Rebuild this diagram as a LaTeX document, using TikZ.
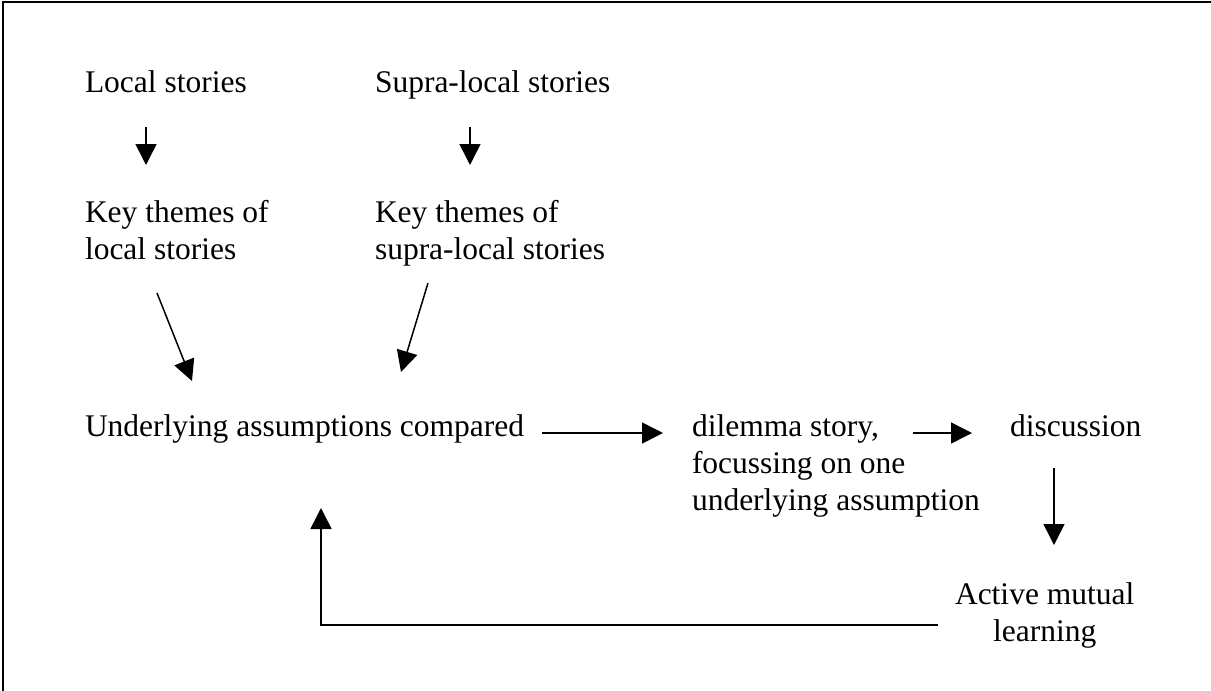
\documentclass[tikz,border=0pt]{standalone}
\usepackage{fontspec}
\setmainfont{Liberation Serif}
\usetikzlibrary{arrows.meta}
\begin{document}
\begin{tikzpicture}[x=1pt,y=-1pt,
  lbl/.style={inner sep=0pt,outer sep=0pt,anchor=base west,
    font=\fontsize{31.5}{37}\selectfont},
  arr/.style={line width=1.5pt,-{Triangle[length=21pt,width=21pt]}},
  frameline/.style={line width=2pt}]
  \useasboundingbox (0,0) rectangle (1211,691);
  % frame edges
  \draw[frameline] (3,691) -- (3,1.5) -- (1211,1.5);

  % labels (multi-line labels are placed by the baseline of their last line)
  \node[lbl] (local) at (85,92) {Local stories};
  \node[lbl] (supra) at (375,92) {Supra-local stories};
  \node[lbl,align=left] (key1) at (85,259) {Key themes of\\local stories};
  \node[lbl,align=left] (key2) at (375,259) {Key themes of\\supra-local stories};
  \node[lbl] (ua) at (85,436) {Underlying assumptions compared};
  \node[lbl,align=left] (dil) at (692,510) {dilemma story,\\focussing on one\\underlying assumption};
  \node[lbl] (disc) at (1010,436) {discussion};
  \node[lbl,align=center] (aml) at (955,641) {Active mutual\\learning};

  % connectors
  \draw[arr] ([xshift=61pt,yshift=-35pt]local.base west) -- ([xshift=61pt,yshift=94pt]key1.base west);
  \draw[arr] ([xshift=95pt,yshift=-35pt]supra.base west) -- ([xshift=95pt,yshift=94pt]key2.base west);
  \draw[arr] ([xshift=72pt,yshift=-34pt]key1.base west) -- ([xshift=107pt,yshift=55pt]ua.base west);
  \draw[arr] ([xshift=53pt,yshift=-24pt]key2.base west) -- ([xshift=316pt,yshift=64pt]ua.base west);
  \draw[arr] ([xshift=18pt,yshift=3pt]ua.base east) -- ([xshift=-29pt,yshift=77pt]dil.base west);
  \draw[arr] ([xshift=221pt,yshift=77pt]dil.base west) -- ([xshift=-38pt,yshift=3pt]disc.base west);
  \draw[arr] ([xshift=44pt,yshift=-32pt]disc.base west) -- ([xshift=99pt,yshift=96pt]aml.base west);
  \draw[arr] ([xshift=-17pt,yshift=16pt]aml.base west) -| ([xshift=236pt,yshift=-72pt]ua.base west);
\end{tikzpicture}
\end{document}
